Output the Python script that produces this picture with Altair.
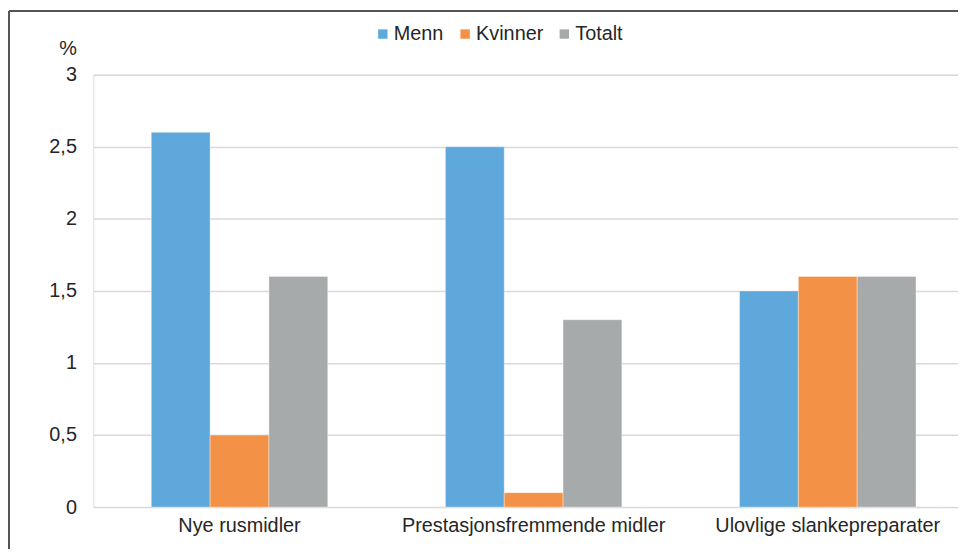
import altair as alt
import pandas as pd

categories = ["Nye rusmidler", "Prestasjonsfremmende midler", "Ulovlige slankepreparater"]
series = ["Menn", "Kvinner", "Totalt"]
menn = [2.6, 2.5, 1.5]
kvinner = [0.5, 0.1, 1.6]
totalt = [1.6, 1.3, 1.6]
colors = ["#5fa8dc", "#f39247", "#a7aaab"]
y_ticks = [0, 0.5, 1, 1.5, 2, 2.5, 3]

rows = []
for i, c in enumerate(categories):
    for s, vals in zip(series, [menn, kvinner, totalt]):
        rows.append({"kategori": c, "serie": s, "verdi": vals[i]})
df = pd.DataFrame(rows)

W, H = 872, 436
FONT = "Liberation Sans"
TXT = "#262626"
FS = 20

bars = alt.Chart(df).mark_bar(stroke="#ffffff", strokeWidth=0.6, strokeOpacity=0.6).encode(
    x=alt.X("kategori:N", sort=categories, title=None,
            scale=alt.Scale(paddingInner=0.4, paddingOuter=0.17, align=0.58),
            axis=alt.Axis(domain=False, ticks=False, labelAngle=0, labelPadding=9,
                          labelLimit=600,
                          labelFontSize=FS, labelColor=TXT, labelFont=FONT, grid=False)),
    xOffset=alt.XOffset("serie:N", sort=series),
    y=alt.Y("verdi:Q", title="%",
            scale=alt.Scale(domain=[0, 3], nice=False),
            axis=alt.Axis(values=y_ticks, domain=False, ticks=False, labelPadding=17,
                          format="~g",
                          labelExpr="replace(datum.label, '.', ',')",
                          labelFontSize=FS, labelColor=TXT, labelFont=FONT,
                          gridColor="#d9d9d9", gridWidth=1.5,
                          titleAngle=0, titleX=-26, titleY=-26, titleAlign="center",
                          titleBaseline="middle", titleFontSize=FS, titleFontWeight="normal",
                          titleColor=TXT, titleFont=FONT)),
    color=alt.Color("serie:N", sort=series,
                    scale=alt.Scale(domain=series, range=colors),
                    legend=alt.Legend(title=None, orient="none", direction="horizontal",
                                      legendX=282, legendY=-51, symbolType="square",
                                      symbolSize=90, symbolStrokeWidth=0, labelOffset=1,
                                      columnPadding=11, labelFontSize=FS, labelColor=TXT,
                                      labelFont=FONT)),
)

border_left = alt.Chart(df).mark_rule(color="#555555", strokeWidth=1.5).encode(
    x=alt.value(-85), y=alt.value(-64), y2=alt.value(H + 60))
border_top = alt.Chart(df).mark_rule(color="#555555", strokeWidth=1.5).encode(
    x=alt.value(-85), x2=alt.value(W + 10), y=alt.value(-64))

chart = alt.layer(bars, border_left, border_top).properties(
    width=W, height=H,
    autosize=alt.AutoSizeParams(type="none"),
    padding={"left": 86, "top": 65, "right": 0, "bottom": 40},
).configure_view(stroke=None).configure(background="#ffffff")

chart.save("out.html", embed_options={"renderer": "svg", "actions": False})
